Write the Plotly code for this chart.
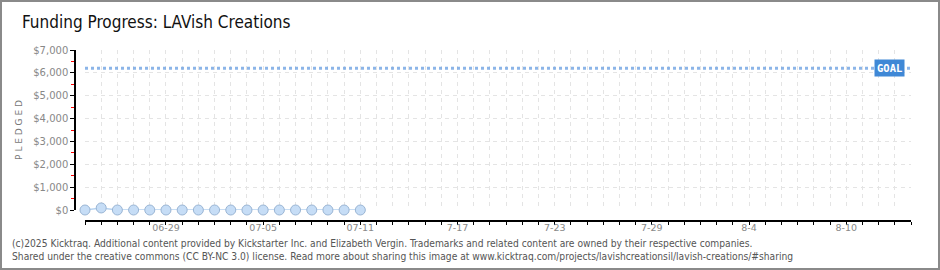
import plotly.graph_objects as go
import pandas as pd

# ---- data ----
dates = pd.date_range("2025-06-24", "2025-07-11", freq="D").strftime("%Y-%m-%d").tolist()
pledged = [0, 90, 0, 0, 0, 0, 0, 0, 0, 0, 0, 0, 0, 0, 0, 0, 0, 0]
goal = 6200
range_start = "2025-06-24"
range_end = "2025-08-14"
tick_dates = ["2025-06-29", "2025-07-05", "2025-07-11", "2025-07-17",
              "2025-07-23", "2025-07-29", "2025-08-04", "2025-08-10"]
tick_labels = ["06-29", "07-05", "07-11", "7-17", "7-23", "7-29", "8-4", "8-10"]
y_ticks = [0, 1000, 2000, 3000, 4000, 5000, 6000, 7000]
y_labels = ["$0", "$1,000", "$2,000", "$3,000", "$4,000", "$5,000", "$6,000", "$7,000"]

W, H = 940, 270
ML, MR, MT, MB = 75, 29, 50, 49
PW, PH = W - ML - MR, H - MT - MB
FONT = "Liberation Sans Narrow, DejaVu Sans Condensed, Arial Narrow, sans-serif"
GRID = "#e4e4e4"

fig = go.Figure()

# goal line
fig.add_trace(go.Scatter(
    x=[range_start, range_end], y=[goal, goal], mode="lines",
    line=dict(color="rgba(120,168,228,0.85)", width=3, dash="dot"),
    hoverinfo="skip", showlegend=False, cliponaxis=False))

# pledged series
fig.add_trace(go.Scatter(
    x=dates, y=pledged, mode="lines+markers",
    line=dict(color="#b6d2f0", width=1.5),
    marker=dict(size=10, color="#c6ddf6", line=dict(color="#9ab5d4", width=1)),
    showlegend=False, cliponaxis=False))

fig.add_annotation(
    x=range_end, y=goal, xref="x", yref="y", text="<b>GOAL</b>", showarrow=False,
    xanchor="right", xshift=-6, bgcolor="#3f88d6", borderpad=2,
    font=dict(color="white", size=10.5, family="DejaVu Sans Mono, monospace"))

# title
fig.add_annotation(
    x=-(ML - 20) / PW, y=1 + (MT - 22) / PH, xref="paper", yref="paper",
    text="Funding Progress: LAVish Creations", showarrow=False,
    xanchor="left", yanchor="middle",
    font=dict(size=17, color="#111", family=FONT))

# footer
fig.add_annotation(
    x=-(ML - 10) / PW, y=-(243 - MT - PH) / PH, xref="paper", yref="paper",
    text="(c)2025 Kicktraq. Additional content provided by Kickstarter Inc. and Elizabeth Vergin. Trademarks and related content are owned by their respective companies.",
    showarrow=False, xanchor="left", yanchor="middle",
    font=dict(size=10.2, color="#555", family=FONT))
fig.add_annotation(
    x=-(ML - 10) / PW, y=-(256 - MT - PH) / PH, xref="paper", yref="paper",
    text="Shared under the creative commons (CC BY-NC 3.0) license. Read more about sharing this image at www.kicktraq.com/projects/lavishcreationsil/lavish-creations/#sharing",
    showarrow=False, xanchor="left", yanchor="middle",
    font=dict(size=10.2, color="#555", family=FONT))

# outer border
fig.add_shape(type="rect", xref="paper", yref="paper",
              x0=-(ML - 1) / PW, x1=1 + (MR - 1) / PW,
              y0=-(MB - 1) / PH, y1=1 + (MT - 1) / PH,
              line=dict(color="#8a8a8a", width=2), layer="above")

fig.update_layout(
    width=W, height=H,
    margin=dict(l=ML, r=MR, t=MT, b=MB),
    paper_bgcolor="white", plot_bgcolor="white",
    xaxis=dict(
        type="date", range=[range_start, range_end],
        domain=[10 / PW, 1],
        anchor="free", position=0,
        tickvals=tick_dates, ticktext=tick_labels,
        ticks="outside", ticklen=3, tickcolor="black",
        ticklabelstandoff=-5,
        showline=True, linecolor="black", linewidth=1.5,
        showgrid=True, gridcolor=GRID, griddash="4px,4px", gridwidth=1,
        minor=dict(dtick=86400000, tick0=range_start, ticks="outside", ticklen=3,
                   tickcolor="black", showgrid=True, gridcolor=GRID, griddash="4px,4px"),
        tickfont=dict(size=9.5, color="#888", family="DejaVu Sans, sans-serif"),
        zeroline=False, fixedrange=True,
    ),
    yaxis=dict(
        range=[0, 7000], domain=[11 / PH, 1],
        anchor="free", position=0,
        tickvals=y_ticks, ticktext=y_labels,
        ticks="outside", ticklen=4, tickcolor="black",
        showline=True, linecolor="black", linewidth=1.5,
        showgrid=True, gridcolor=GRID, griddash="4px,4px",
        minor=dict(dtick=500, tick0=500, ticks="outside", ticklen=3,
                   tickcolor="red", showgrid=False),
        tickfont=dict(size=10, color="#888", family="DejaVu Sans, sans-serif"),
        title=dict(text="P L E D G E D", standoff=8,
                   font=dict(size=9, color="#777", family="DejaVu Sans, sans-serif")),
        zeroline=False, fixedrange=True,
    ),
)

fig.write_html("out.html")
